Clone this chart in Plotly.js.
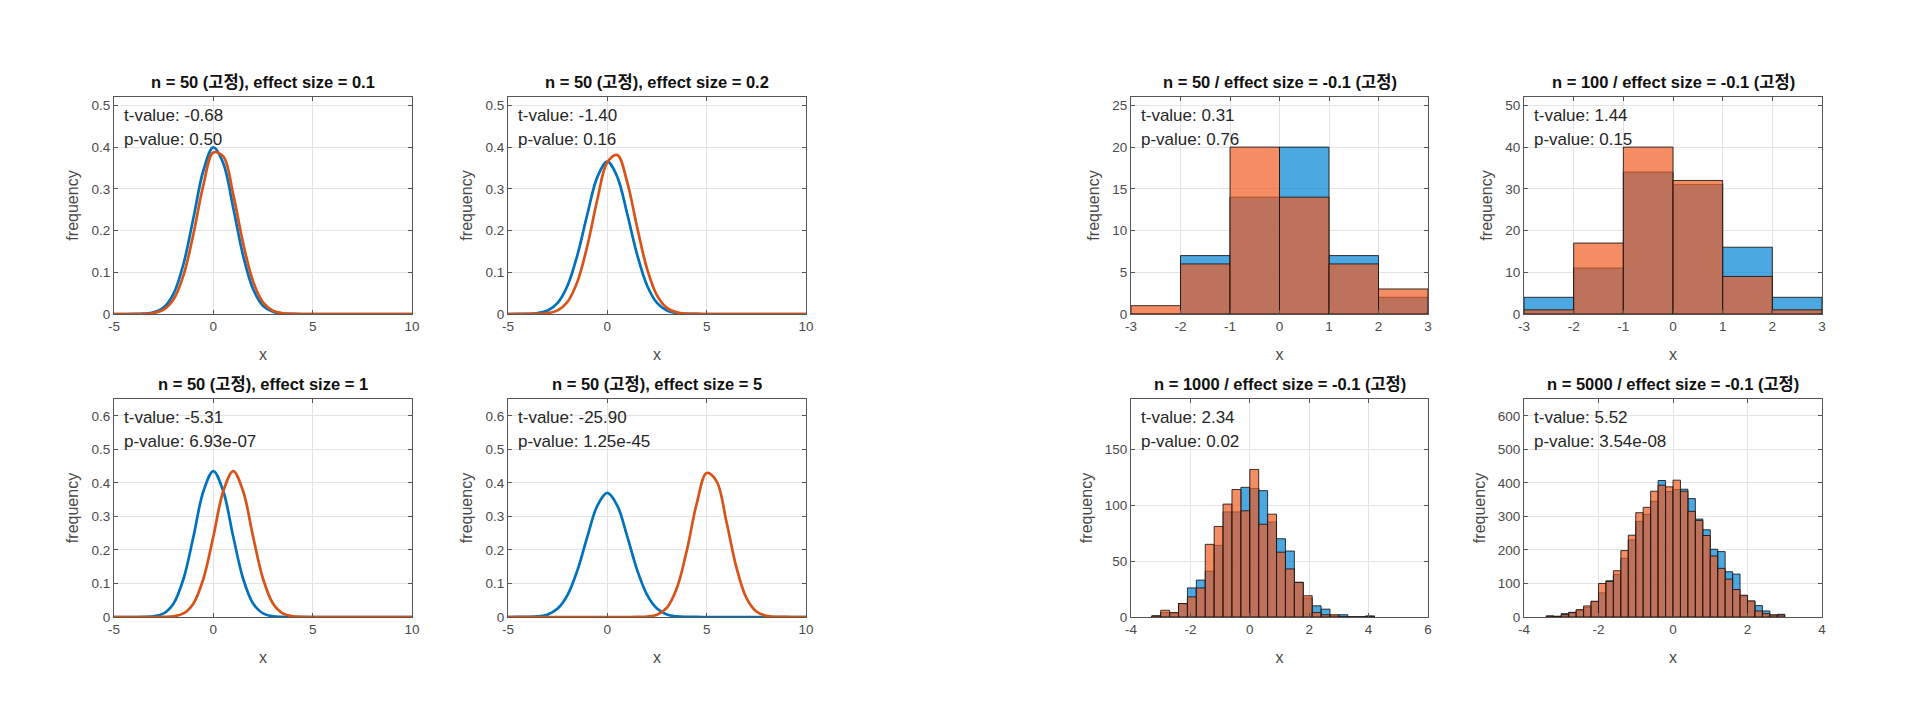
<!DOCTYPE html>
<html><head><meta charset="utf-8">
<script src="https://cdn.plot.ly/plotly-3.0.1.min.js"></script>
<style>html,body{margin:0;padding:0;background:#fff}</style>
</head><body><div id="chart" style="width:1920px;height:719px"></div>
<script>
// ---------- data ----------
const xs = [-5,-4.5,-4,-3.5,-3,-2.5,-2,-1.5,-1,-0.5,0,0.5,1,1.5,2,2.5,3,3.5,4,4.5,5,5.5,6,6.5,7,7.5,8,8.5,9,9.5,10];

const p1Blue   = [0,0,0.0001,0.0007,0.0038,0.0155,0.0489,0.1203,0.2305,0.3439,0.3995,0.3615,0.2547,0.1398,0.0598,0.0199,0.0052,0.001,0.0002,0, 0,0,0,0,0,0,0,0,0,0,0];
const p1Orange = [0,0,0,0.0004,0.0024,0.0103,0.0351,0.0931,0.1923,0.3092,0.3872,0.3776,0.2868,0.1697,0.0782,0.028,0.0078,0.0017,0.0003,0, 0,0,0,0,0,0,0,0,0,0,0];
const p2Blue   = [0,0.0001,0.0004,0.0022,0.0084,0.0267,0.0684,0.1423,0.2402,0.3287,0.365,0.3287,0.2402,0.1423,0.0684,0.0267,0.0084,0.0022,0.0004,0.0001, 0,0,0,0,0,0,0,0,0,0,0];
const p2Orange = [0,0,0.0001,0.0004,0.0021,0.0088,0.0294,0.0782,0.1647,0.275,0.3636,0.381,0.3162,0.2079,0.1083,0.0447,0.0146,0.0038,0.0008,0.0001, 0,0,0,0,0,0,0,0,0,0,0];
const p3Blue   = [0,0,0,0.0003,0.0021,0.0106,0.0403,0.1141,0.24,0.3749,0.435,0.3749,0.24,0.1141,0.0403,0.0106,0.0021,0.0003,0,0, 0,0,0,0,0,0,0,0,0,0,0];
const p3Orange = [0,0,0,0,0,0.0003,0.0021,0.0106,0.0403,0.1141,0.24,0.3749,0.435,0.3749,0.24,0.1141,0.0403,0.0106,0.0021,0.0003, 0,0,0,0,0,0,0,0,0,0,0];
const p4Blue   = [0,0.0001,0.0004,0.0019,0.0077,0.0252,0.0662,0.1405,0.2406,0.3323,0.37,0.3323,0.2406,0.1405,0.0662,0.0252,0.0077,0.0019,0.0004,0.0001, 0,0,0,0,0,0,0,0,0,0,0];
const p4Orange = [0,0,0,0,0,0,0,0,0,0,0,0,0,0.0002,0.0012,0.0067,0.0278,0.0862,0.1981,0.3384,0.4292,0.4045,0.2831,0.1472,0.0569,0.0163,0.0035,0.0005,0.0001,0,0];

const h1Edges  = [-3,-2,-1,0,1,2];
const h1Blue   = [0,7,14,20,7,2];
const h1Orange = [1,6,20,14,6,3];

const h2Edges  = [-3,-2,-1,0,1,2];
const h2Blue   = [4,11,34,31,16,4];
const h2Orange = [1,17,40,32,9,1];

const h3Edges  = [-3.3,-3.0,-2.7,-2.4,-2.1,-1.8,-1.5,-1.2,-0.9,-0.6,-0.3,0,0.3,0.6,0.9,1.2,1.5,1.8,2.1,2.4,2.7,3.0,3.3,3.6,3.9];
const h3Blue   = [1,4,3,12,26,33,41,64,94,94,116,115,113,85,70,59,31,17,10,7,1,2,0,0,1];
const h3Orange = [1,6,4,12,18,26,65,81,101,114,95,132,83,92,58,43,31,19,4,2,2,0,0,0,0];

const h4Edges  = [-3.4,-3.2,-3.0,-2.8,-2.6,-2.4,-2.2,-2.0,-1.8,-1.6,-1.4,-1.2,-1.0,-0.8,-0.6,-0.4,-0.2,0,0.2,0.4,0.6,0.8,1.0,1.2,1.4,1.6,1.8,2.0,2.2,2.4,2.6,2.8];
const h4Blue   = [3,2,10,14,19,28,46,72,108,127,175,230,285,306,345,407,374,380,381,353,292,260,202,195,135,128,63,47,34,18,6,8];
const h4Orange = [3,2,7,13,22,33,47,100,106,138,198,244,311,327,375,393,388,408,375,315,288,243,182,145,113,82,65,48,18,10,6,6];

const titles = [
  "n = 50 (고정), effect size = 0.1",
  "n = 50 (고정), effect size = 0.2",
  "n = 50 (고정), effect size = 1",
  "n = 50 (고정), effect size = 5",
  "n = 50 / effect size = -0.1 (고정)",
  "n = 100 / effect size = -0.1 (고정)",
  "n = 1000 / effect size = -0.1 (고정)",
  "n = 5000 / effect size = -0.1 (고정)"
];
const tValues = ["-0.68","-1.40","-5.31","-25.90","0.31","1.44","2.34","5.52"];
const pValues = ["0.50","0.16","6.93e-07","1.25e-45","0.76","0.15","0.02","3.54e-08"];

// ---------- styling ----------
const BLUE = '#0072BD', ORANGE = '#D95319';
const BAR_BLUE = 'rgba(0,131,211,0.7)', BAR_ORANGE = 'rgba(239,91,34,0.7)';
const FONT = '"Liberation Sans", Arial, "Noto Sans CJK KR", sans-serif';
const AX = '#555555';

const W = 1920, H = 719;
const colsPx = [[114,412],[508,806],[1131,1428],[1524,1822]];
const rowsPx = [[97,314],[399,617]];
function xd(c){ return [colsPx[c][0]/W, colsPx[c][1]/W]; }
function yd(r){ return [1-rowsPx[r][1]/H, 1-rowsPx[r][0]/H]; }

// panel: [col,row]
const place = [[0,0],[1,0],[0,1],[1,1],[2,0],[3,0],[2,1],[3,1]];
const xRanges = [[-5,10],[-5,10],[-5,10],[-5,10],[-3,3],[-3,3],[-4,6],[-4,4]];
const xTicks = [[-5,0,5,10],[-5,0,5,10],[-5,0,5,10],[-5,0,5,10],[-3,-2,-1,0,1,2,3],[-3,-2,-1,0,1,2,3],[-4,-2,0,2,4,6],[-4,-2,0,2,4]];
const yRanges = [[0,0.52],[0,0.52],[0,0.65],[0,0.65],[0,26],[0,52],[0,195],[0,650]];
const yDticks = [0.1,0.1,0.1,0.1,5,10,50,100];

const traces = [];
const curves = [[p1Blue,p1Orange],[p2Blue,p2Orange],[p3Blue,p3Orange],[p4Blue,p4Orange]];
curves.forEach((c,i)=>{
  const sx = i===0?'':String(i+1);
  [[c[0],BLUE],[c[1],ORANGE]].forEach(([y,col])=>{
    traces.push({type:'scatter',mode:'lines',x:xs,y:y,xaxis:'x'+sx,yaxis:'y'+sx,
      line:{color:col,width:2.7,shape:'spline',smoothing:1},hoverinfo:'skip'});
  });
});
const hists = [[h1Edges,h1Blue,h1Orange,1],[h2Edges,h2Blue,h2Orange,1],[h3Edges,h3Blue,h3Orange,0.3],[h4Edges,h4Blue,h4Orange,0.2]];
hists.forEach((h,j)=>{
  const sx = String(j+5);
  [[h[1],BAR_BLUE],[h[2],BAR_ORANGE]].forEach(([y,col])=>{
    traces.push({type:'bar',x:h[0],y:y,width:h[3],offset:0,xaxis:'x'+sx,yaxis:'y'+sx,
      marker:{color:col,line:{color:'rgba(20,20,20,0.85)',width:1}},hoverinfo:'skip'});
  });
});

const layout = {
  width:W,height:H,margin:{l:0,r:0,t:0,b:0},
  paper_bgcolor:'#ffffff',plot_bgcolor:'#ffffff',showlegend:false,
  barmode:'overlay',bargap:0,
  font:{family:FONT,color:'#404040',size:14},
  annotations:[]
};
place.forEach((p,i)=>{
  const sx = i===0?'':String(i+1);
  const common = {showline:true,linecolor:AX,linewidth:1,mirror:'ticks',ticks:'inside',ticklen:4,
    tickcolor:AX,showgrid:true,gridcolor:'#e4e4e4',gridwidth:1,zeroline:false,
    tickfont:{family:FONT,size:13.5,color:'#4a4a4a'},fixedrange:true};
  layout['xaxis'+sx] = Object.assign({},common,{domain:xd(p[0]),anchor:'y'+sx,range:xRanges[i],
    tickmode:'array',tickvals:xTicks[i],ticktext:xTicks[i].map(String),
    title:{text:'x',font:{family:FONT,size:16,color:'#4a4a4a'},standoff:15}});
  layout['yaxis'+sx] = Object.assign({},common,{domain:yd(p[1]),anchor:'x'+sx,range:yRanges[i],
    tick0:0,dtick:yDticks[i],
    title:{text:'frequency',font:{family:FONT,size:16,color:'#4a4a4a'},standoff:8}});
  const xr = 'x'+sx+' domain', yr = 'y'+sx+' domain';
  layout.annotations.push({xref:xr,yref:yr,x:0.5,y:1,xanchor:'center',yanchor:'bottom',yshift:4,
    showarrow:false,text:'<b>'+titles[i]+'</b>',font:{family:FONT,size:16.5,color:'#111'}});
  layout.annotations.push({xref:xr,yref:yr,x:0,y:1,xanchor:'left',yanchor:'middle',xshift:8,yshift:-18,
    showarrow:false,text:'t-value: '+tValues[i],font:{family:FONT,size:17,color:'#262626'}});
  layout.annotations.push({xref:xr,yref:yr,x:0,y:1,xanchor:'left',yanchor:'middle',xshift:8,yshift:-42,
    showarrow:false,text:'p-value: '+pValues[i],font:{family:FONT,size:17,color:'#262626'}});
});

Plotly.newPlot('chart',traces,layout,{staticPlot:true,displayModeBar:false});
</script>
</body></html>
